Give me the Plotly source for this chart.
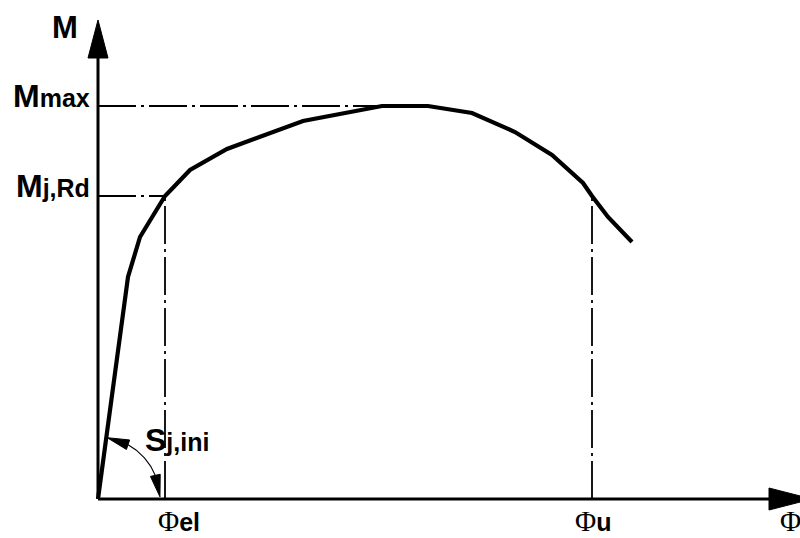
import numpy as np
import plotly.graph_objects as go

# Moment-rotation characteristic of a joint (arbitrary units)
phi = [0.0, 0.30, 0.42, 0.67, 0.92, 1.29, 2.05, 2.84, 3.30, 3.74, 4.17, 4.54, 4.85, 4.94, 5.10, 5.34]
moment = [0.0, 2.22, 2.62, 3.03, 3.29, 3.50, 3.78, 3.93, 3.93, 3.86, 3.67, 3.44, 3.16, 3.03, 2.82, 2.57]

m_max = 3.93        # maximum moment
m_j_rd = 3.03       # design moment resistance
phi_el = 0.67       # elastic rotation
phi_u = 4.94        # ultimate rotation
phi_plateau = 2.84  # rotation where the Mmax plateau begins

# axis extents (arrow base / arrow tip)
x_end, x_tip = 6.71, 7.14
y_end, y_tip = 4.41, 4.79

SANS = "Liberation Sans, Arial, sans-serif"
SERIF = "Liberation Serif, Times New Roman, serif"
DASHDOT = "38px,5px,3px,5px"

fig = go.Figure()


def line(xs, ys, width, dash="solid"):
    fig.add_trace(go.Scatter(x=xs, y=ys, mode="lines", hoverinfo="skip",
                             line=dict(color="black", width=width, dash=dash),
                             showlegend=False, cliponaxis=False))


def triangle(tip, direction, length, half_width):
    d = np.asarray(direction, float)
    d = d / np.linalg.norm(d)
    n = np.array([-d[1], d[0]])
    t = np.asarray(tip, float)
    base = t - d * length
    pts = [t, base + n * half_width, base - n * half_width, t]
    fig.add_trace(go.Scatter(x=[p[0] for p in pts], y=[p[1] for p in pts],
                             mode="lines", fill="toself", fillcolor="black",
                             line=dict(color="black", width=1), hoverinfo="skip",
                             showlegend=False))


# reference lines (dash-dot)
line([0, phi_plateau], [m_max, m_max], 1.8, DASHDOT)
line([0, phi_el], [m_j_rd, m_j_rd], 1.8, DASHDOT)
line([phi_el, phi_el], [0, m_j_rd], 1.8, DASHDOT)
line([phi_u, phi_u], [0, m_j_rd], 1.8, DASHDOT)

# axes with arrows
line([0, 0], [0, y_end], 3)
line([0, x_end], [0, 0], 3)
triangle((0, y_tip), (0, 1), y_tip - y_end, 0.10)
triangle((x_tip, 0), (1, 0), x_tip - x_end, 0.11)

# M-phi curve
line(phi, moment, 4.2)

# initial stiffness angle marker: arc about the origin with arrowheads
r_arc = 0.62
a_top, a_bot = np.radians(81.5), np.radians(2.0)
head = 0.22
da = head / r_arc
angles = np.linspace(a_bot + da, a_top - da, 40)
line(r_arc * np.cos(angles), r_arc * np.sin(angles), 1.1)
tip_top = (r_arc * np.cos(a_top), r_arc * np.sin(a_top))
base_top = (r_arc * np.cos(a_top - da), r_arc * np.sin(a_top - da))
triangle(tip_top, (tip_top[0] - base_top[0], tip_top[1] - base_top[1]), head, 0.05)
tip_bot = (r_arc * np.cos(a_bot), r_arc * np.sin(a_bot))
base_bot = (r_arc * np.cos(a_bot + da), r_arc * np.sin(a_bot + da))
triangle(tip_bot, (tip_bot[0] - base_bot[0], tip_bot[1] - base_bot[1]), head, 0.05)


def label(text, x, y, xanchor, yanchor="middle", size=32):
    fig.add_annotation(x=x, y=y, text=text, showarrow=False, xanchor=xanchor,
                       yanchor=yanchor, borderpad=0,
                       font=dict(family=SANS, size=size, color="black", weight="bold"))


def sub(s, size=25):
    return f"<span style='font-size:{size}px'>{s}</span>"


def phi_sym():
    return f"<span style='font-family:{SERIF};font-weight:normal;font-size:29px'>Φ</span>"


label("M", -0.33, 4.72, "center", size=31)
label("M" + sub("max"), -0.07, 4.03, "right")
label("M" + sub("j,Rd"), -0.07, 3.13, "right")
label("S" + sub("j,ini"), 0.46, 0.59, "left")
label(phi_sym() + sub("el"), 0.59, -0.385, "left", "bottom", 24)
label(phi_sym() + sub("u"), 4.76, -0.385, "left", "bottom", 24)
label(phi_sym(), 6.81, -0.385, "left", "bottom", 24)

fig.update_layout(
    width=800, height=538, autosize=False,
    margin=dict(l=0, r=0, t=0, b=0),
    paper_bgcolor="white", plot_bgcolor="white",
    xaxis=dict(range=[-0.98, 7.02], visible=False, fixedrange=True),
    yaxis=dict(range=[-0.39, 4.99], visible=False, fixedrange=True),
    showlegend=False,
)

fig.write_html("out.html")
